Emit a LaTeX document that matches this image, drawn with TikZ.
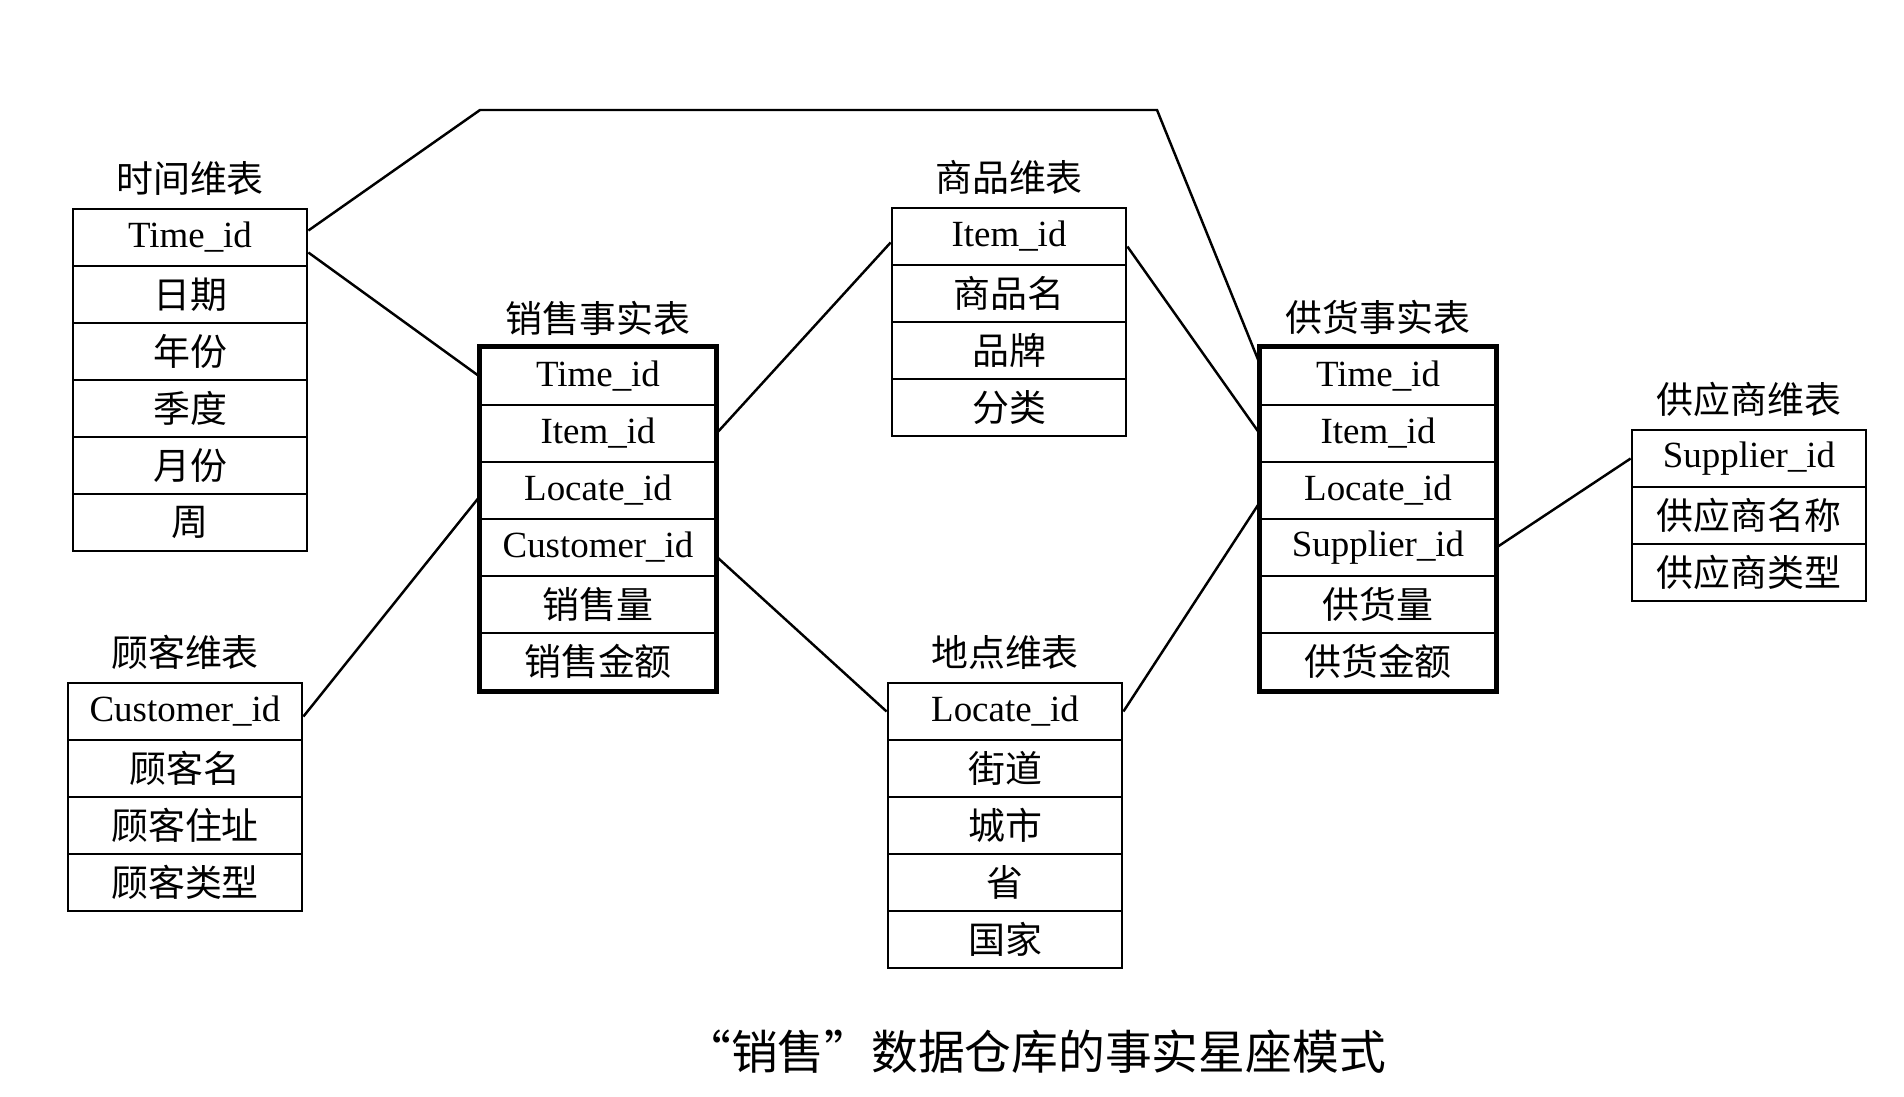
\documentclass[tikz,border=0pt]{standalone}
\usepackage{fontspec}
\setmainfont{Liberation Serif}
\newfontfamily\cjk{Noto Sans CJK SC}
\newcommand{\zh}[1]{{\cjk #1}}
\tikzset{
  cell/.style={draw, line width=0.75pt, minimum width=2.34cm, minimum height=0.57cm,
    inner sep=0pt, font=\fontsize{10.5}{12}\selectfont},
  tabletitle/.style={font=\fontsize{10.5}{12}\selectfont\cjk, inner sep=0pt},
  factframe/.style={line width=1.5pt},
  link/.style={line width=0.7pt},
}
\begin{document}
\begin{tikzpicture}[x=0.01cm, y=-0.01cm]
  \useasboundingbox (0,0) rectangle (1904,1096);
  % dimension tables
  \node[tabletitle] (timetitle) at (190,178) {时间维表};
  \foreach \txt [count=\i] in {Time\_id, \zh{日期}, \zh{年份}, \zh{季度}, \zh{月份}, \zh{周}}
    \node[cell] (time\i) at (190, 209+57*\i-28.5) {\txt};
  \node[tabletitle] (custtitle) at (185,652) {顾客维表};
  \foreach \txt [count=\i] in {Customer\_id, \zh{顾客名}, \zh{顾客住址}, \zh{顾客类型}}
    \node[cell] (cust\i) at (185, 683+57*\i-28.5) {\txt};
  \node[tabletitle] (itemtitle) at (1009,177) {商品维表};
  \foreach \txt [count=\i] in {Item\_id, \zh{商品名}, \zh{品牌}, \zh{分类}}
    \node[cell] (item\i) at (1009, 208+57*\i-28.5) {\txt};
  \node[tabletitle] (loctitle) at (1005,652) {地点维表};
  \foreach \txt [count=\i] in {Locate\_id, \zh{街道}, \zh{城市}, \zh{省}, \zh{国家}}
    \node[cell] (loc\i) at (1005, 683+57*\i-28.5) {\txt};
  \node[tabletitle] (suppliertitle) at (1749,399) {供应商维表};
  \foreach \txt [count=\i] in {Supplier\_id, \zh{供应商名称}, \zh{供应商类型}}
    \node[cell] (supplier\i) at (1749, 430+57*\i-28.5) {\txt};
  % fact tables
  \node[tabletitle] (saletitle) at (598,318) {销售事实表};
  \foreach \txt [count=\i] in {Time\_id, Item\_id, Locate\_id, Customer\_id, \zh{销售量}, \zh{销售金额}}
    \node[cell] (sale\i) at (598, 348+57*\i-28.5) {\txt};
  \draw[factframe] (sale1.north west) rectangle (sale6.south east);
  \node[tabletitle] (supplytitle) at (1378,317) {供货事实表};
  \foreach \txt [count=\i] in {Time\_id, Item\_id, Locate\_id, Supplier\_id, \zh{供货量}, \zh{供货金额}}
    \node[cell] (supply\i) at (1378, 348+57*\i-28.5) {\txt};
  \draw[factframe] (supply1.north west) rectangle (supply6.south east);
  % links
  \coordinate (bendL) at (480,110);
  \coordinate (bendR) at (1157,110);
  \draw[link] ([yshift=0.07cm]time1.east) -- (bendL) -- (bendR) -- ([yshift=0.13cm]supply1.west);
  \draw[link] ([yshift=-0.15cm]time1.east) -- (sale1.west);
  \draw[link] (sale2.east) -- ([yshift=-0.06cm]item1.west);
  \draw[link] ([yshift=-0.1cm]item1.east) -- (supply2.west);
  \draw[link] ([yshift=-0.05cm]cust1.east) -- ([yshift=-0.06cm]sale3.west);
  \draw[link] ([yshift=-0.09cm]sale4.east) -- (loc1.west);
  \draw[link] (loc1.east) -- ([yshift=-0.12cm]supply3.west);
  \draw[link] (supply4.east) -- (supplier1.west);
  \node[font=\fontsize{13.3}{15}\selectfont\cjk] (caption) at (1028,1052) {\hspace{0.3em}“销售”数据仓库的事实星座模式};
\end{tikzpicture}
\end{document}
